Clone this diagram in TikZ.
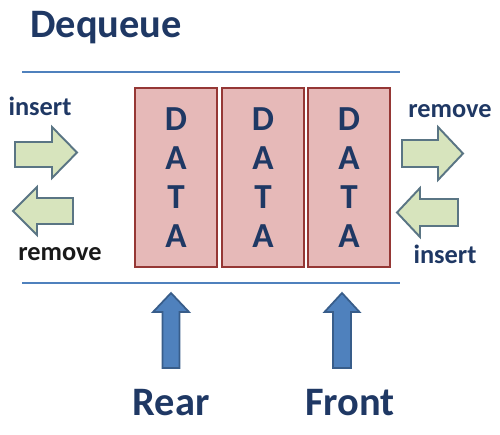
\documentclass[tikz,border=0pt]{standalone}
\usepackage{fontspec}
\setmainfont{Carlito}
\usetikzlibrary{positioning}

\definecolor{navy}{HTML}{1F3864}
\definecolor{ruleblue}{HTML}{4F81BD}
\definecolor{boxfill}{HTML}{E6B9B8}
\definecolor{boxline}{HTML}{953735}
\definecolor{greenfill}{HTML}{D7E4BD}
\definecolor{greenline}{HTML}{5A7584}
\definecolor{upfill}{HTML}{4F81BD}
\definecolor{upline}{HTML}{385D8A}

\tikzset{
  rule/.style={ruleblue, line width=1.2pt},
  databox/.style={draw=boxline, fill=boxfill, line width=1.2pt,
    minimum width=1.64cm, minimum height=3.58cm, inner sep=0pt,
    align=center, text=navy, font=\bfseries\fontsize{20}{22.1}\selectfont},
  greenarrow/.style={draw=greenline, fill=greenfill, line width=1.1pt, line join=miter},
  uparrow/.style={draw=upline, fill=upfill, line width=1pt, line join=miter},
  oplabel/.style={text=navy, font=\bfseries\fontsize{15}{18}\selectfont, inner sep=0pt},
  endlabel/.style={text=navy, font=\bfseries\fontsize{23}{26}\selectfont, inner sep=0pt}
}

\begin{document}
\begin{tikzpicture}[x=0.02cm, y=-0.02cm]
  \useasboundingbox (0,0) rectangle (500,434);

  % title and rules
  \node[endlabel, anchor=base west] (title) at (30,37) {Dequeue};
  \draw[rule] (22,72) -- (400,72);
  \draw[rule] (22,283) -- (400,283);

  % the three cells
  \node[databox] (box1) at (176,177.5) {D\\A\\T\\A};
  \node[databox] (box2) at (263,177.5) {D\\A\\T\\A};
  \node[databox] (box3) at (349,177.5) {D\\A\\T\\A};

  % left end
  \node[oplabel, anchor=base] (insL) at (40,115) {insert};
  \draw[greenarrow] (15,142) -- (52,142) -- (52,127) -- (77,152.5)
    -- (52,178) -- (52,167) -- (15,167) -- cycle;
  \draw[greenarrow] (73,198) -- (37,198) -- (37,187) -- (13,211)
    -- (37,235) -- (37,224) -- (73,224) -- cycle;
  \node[oplabel, text=black!90, anchor=base] (remL) at (60,260) {remove};

  % right end
  \node[oplabel, anchor=base] (remR) at (450,117) {remove};
  \draw[greenarrow] (402,140) -- (438,140) -- (438,127) -- (463,153.5)
    -- (438,180) -- (438,167) -- (402,167) -- cycle;
  \draw[greenarrow] (458,199) -- (420,199) -- (420,188) -- (397,212.5)
    -- (420,237) -- (420,226) -- (458,226) -- cycle;
  \node[oplabel, anchor=base] (insR) at (445,263) {insert};

  % pointers
  \draw[uparrow] (162.5,368) -- (162.5,312) -- (153,312) -- (171,293)
    -- (189,312) -- (179.5,312) -- (179.5,368) -- cycle;
  \draw[uparrow] (333,368) -- (333,312) -- (324.5,312) -- (342,293)
    -- (359.5,312) -- (351,312) -- (351,368) -- cycle;
  \node[endlabel, anchor=base] (rear) at (171,415) {Rear};
  \node[endlabel, anchor=base] (front) at (350,415) {Front};
\end{tikzpicture}
\end{document}
